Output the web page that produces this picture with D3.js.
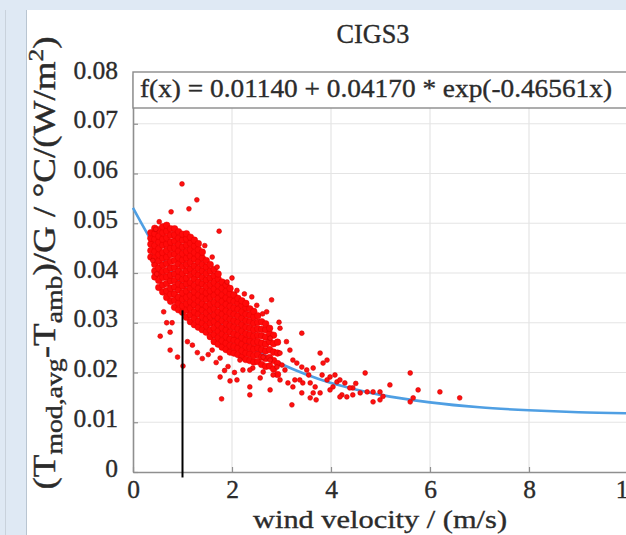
<!DOCTYPE html>
<html><head><meta charset="utf-8">
<script src="https://cdn.jsdelivr.net/npm/d3@7"></script>
<style>body{margin:0;background:#fff;overflow:hidden} svg{display:block}</style>
</head><body>
<svg id="chart" width="626" height="535"></svg>
<script>
// ---------- data ----------
const title = "CIGS3";
const fitLabel = "f(x) = 0.01140 + 0.04170 * exp(-0.46561x)";
const xLabel = "wind velocity / (m/s)";
const xTicks = [0, 2, 4, 6, 8, 10];
const xTickLabels = ["0", "2", "4", "6", "8", "10"];
const yTicks = [0, 0.01, 0.02, 0.03, 0.04, 0.05, 0.06, 0.07, 0.08];
const yTickLabels = ["0", "0.01", "0.02", "0.03", "0.04", "0.05", "0.06", "0.07", "0.08"];

// fitted curve
const fitWind  = [0, 0.5, 1, 1.5, 2, 2.5, 3, 3.5, 4, 4.5, 5, 6, 7, 8, 9, 10];
const fitCoeff = [0.0531, 0.0444, 0.0376, 0.0321, 0.0278, 0.0244, 0.0217, 0.0196, 0.0179, 0.0166, 0.0155, 0.0140, 0.0130, 0.0124, 0.0120, 0.0118];

// dense cloud: wind velocity columns and the coefficients read in each column
const denseWind = [0.36,0.44,0.52,0.60,0.68,0.76,0.84,0.92,1.00,1.08,1.16,1.24,1.32,1.40,1.48,1.56,1.64,1.72,1.80,1.88,1.96,2.04,2.12,2.20,2.28,2.36,2.44,2.52,2.60,2.68,2.76,2.84,2.92];
const denseCoeff = [
 [0.0432,0.0445,0.0458,0.0470,0.0481],
 [0.0392,0.0404,0.0417,0.0431,0.0443,0.0455,0.0468,0.0479,0.0490],
 [0.0371,0.0385,0.0398,0.0410,0.0424,0.0437,0.0449,0.0462,0.0474,0.0487],
 [0.0362,0.0376,0.0391,0.0403,0.0416,0.0430,0.0441,0.0456,0.0468,0.0481,0.0493],
 [0.0351,0.0364,0.0379,0.0392,0.0405,0.0419,0.0432,0.0445,0.0458,0.0471,0.0484,0.0496],
 [0.0343,0.0357,0.0369,0.0384,0.0396,0.0410,0.0423,0.0437,0.0450,0.0462,0.0476,0.0489],
 [0.0331,0.0345,0.0358,0.0372,0.0385,0.0398,0.0411,0.0425,0.0438,0.0451,0.0464,0.0477,0.0489],
 [0.0326,0.0339,0.0351,0.0366,0.0378,0.0392,0.0404,0.0418,0.0431,0.0444,0.0457,0.0470,0.0483],
 [0.0321,0.0334,0.0347,0.0360,0.0374,0.0387,0.0399,0.0413,0.0426,0.0439,0.0452,0.0466,0.0478],
 [0.0311,0.0325,0.0338,0.0351,0.0364,0.0378,0.0390,0.0404,0.0417,0.0430,0.0443,0.0456,0.0469,0.0479],
 [0.0302,0.0316,0.0329,0.0342,0.0355,0.0369,0.0381,0.0395,0.0408,0.0421,0.0434,0.0447,0.0460,0.0472],
 [0.0296,0.0309,0.0322,0.0336,0.0349,0.0362,0.0375,0.0388,0.0401,0.0414,0.0428,0.0441,0.0454,0.0466],
 [0.0291,0.0303,0.0317,0.0330,0.0343,0.0356,0.0369,0.0382,0.0396,0.0409,0.0422,0.0435,0.0447,0.0459],
 [0.0286,0.0299,0.0312,0.0325,0.0338,0.0351,0.0364,0.0378,0.0391,0.0404,0.0417,0.0430,0.0442],
 [0.0281,0.0294,0.0307,0.0320,0.0333,0.0347,0.0360,0.0373,0.0386,0.0399,0.0412,0.0425],
 [0.0272,0.0285,0.0299,0.0312,0.0325,0.0338,0.0351,0.0364,0.0377,0.0390,0.0404,0.0417],
 [0.0262,0.0276,0.0289,0.0302,0.0315,0.0328,0.0341,0.0355,0.0368,0.0381,0.0394,0.0407],
 [0.0257,0.0270,0.0283,0.0296,0.0309,0.0322,0.0336,0.0349,0.0362,0.0375,0.0388,0.0398],
 [0.0251,0.0264,0.0277,0.0290,0.0304,0.0317,0.0330,0.0343,0.0356,0.0369,0.0382],
 [0.0246,0.0259,0.0272,0.0285,0.0298,0.0311,0.0324,0.0337,0.0350,0.0363,0.0376],
 [0.0241,0.0254,0.0267,0.0281,0.0294,0.0307,0.0320,0.0333,0.0346,0.0358,0.0369],
 [0.0239,0.0252,0.0265,0.0278,0.0291,0.0304,0.0317,0.0330,0.0343,0.0356],
 [0.0236,0.0249,0.0262,0.0275,0.0288,0.0301,0.0314,0.0327,0.0340,0.0349],
 [0.0231,0.0244,0.0257,0.0270,0.0283,0.0296,0.0309,0.0322,0.0335,0.0344],
 [0.0226,0.0239,0.0252,0.0265,0.0278,0.0291,0.0304,0.0317,0.0330,0.0339],
 [0.0224,0.0237,0.0250,0.0263,0.0276,0.0289,0.0302,0.0315,0.0328],
 [0.0221,0.0234,0.0247,0.0260,0.0273,0.0286,0.0299,0.0312,0.0323],
 [0.0222,0.0236,0.0249,0.0262,0.0275,0.0288,0.0301,0.0314],
 [0.0216,0.0231,0.0246,0.0259,0.0274,0.0287,0.0302],
 [0.0212,0.0228,0.0243,0.0257,0.0271,0.0286,0.0298],
 [0.0213,0.0230,0.0246,0.0262,0.0278,0.0289],
 [0.0207,0.0224,0.0241,0.0258,0.0275],
 [0.0196,0.0218,0.0239,0.0261]
];

// scattered points outside the dense cloud
const sparseWind = [0.99,1.29,1.13,0.77,0.53,1.74,0.46,1.45,1.60,2.00,2.40,2.80,2.62,2.95,3.41,2.97,2.77,3.10,3.17,2.97,3.23,3.31,3.41,3.51,3.64,3.78,3.92,3.84,3.82,3.98,4.12,4.28,4.44,3.68,3.43,3.27,3.13,2.97,2.83,2.63,2.42,2.22,2.57,2.36,2.77,3.23,3.21,3.58,3.41,3.78,3.98,4.32,3.01,2.77,2.63,2.91,3.07,4.69,5.60,5.19,5.76,6.20,6.60,4.85,4.99,4.85,4.99,5.60,5.66,4.38,4.44,4.59,4.73,4.18,4.08,4.22,3.37,3.58,3.92,3.64,4.04,4.18,3.70,3.55,4.50,5.05,
  0.48,0.40,0.79,0.75,0.55,0.75,0.90,1.01,0.62,0.68,1.10,1.20,1.30,1.40,1.52,1.76,1.96,2.36,2.16,1.76,1.60,1.79,2.36,2.10,1.92,2.05,1.85,1.68,2.10,2.25,1.90,1.70,2.50,2.70];
const sparseCoeff = [0.0579,0.0547,0.0529,0.0523,0.0503,0.0484,0.0488,0.0455,0.0432,0.0390,0.0352,0.0346,0.0318,0.0301,0.0279,0.0289,0.0269,0.0262,0.0245,0.0239,0.0225,0.0219,0.0211,0.0205,0.0209,0.0239,0.0225,0.0219,0.0195,0.0191,0.0181,0.0179,0.0169,0.0171,0.0179,0.0185,0.0179,0.0185,0.0195,0.0201,0.0209,0.0205,0.0189,0.0155,0.0165,0.0171,0.0135,0.0149,0.0159,0.0159,0.0165,0.0151,0.0215,0.0225,0.0231,0.0211,0.0205,0.0199,0.0199,0.0175,0.0165,0.0161,0.0149,0.0161,0.0161,0.0141,0.0145,0.0141,0.0149,0.0169,0.0155,0.0159,0.0161,0.0185,0.0195,0.0155,0.0185,0.0179,0.0185,0.0159,0.0171,0.0151,0.0145,0.0195,0.0178,0.0152,
  0.0398,0.0425,0.0300,0.0281,0.0273,0.0245,0.0231,0.0213,0.0322,0.0300,0.0262,0.0255,0.0240,0.0228,0.0236,0.0191,0.0183,0.0205,0.0225,0.0229,0.0245,0.0147,0.0171,0.0185,0.0212,0.0200,0.0204,0.0220,0.0365,0.0358,0.0382,0.0412,0.0335,0.0322];

// black marker line
const markerWind = [1.0];
const markerCoeffRange = [0.0325, -0.0011];

// ---------- drawing ----------
const svg = d3.select("#chart");
const x = d3.scaleLinear().domain([0, 10]).range([133, 628]);
const y = d3.scaleLinear().domain([0, 0.08]).range([472, 74]);
const serif = "Liberation Serif, Times New Roman, serif";
const ink = "#2b2b2b";

// page frame (screenshot border)
svg.append("rect").attr("x",0).attr("y",0).attr("width",626).attr("height",535).attr("fill","#ffffff");
svg.append("rect").attr("x",0).attr("y",0).attr("width",626).attr("height",10).attr("fill","#dfe9f4");
svg.append("rect").attr("x",0).attr("y",0).attr("width",26).attr("height",535).attr("fill","#dfe9f4");
svg.append("line").attr("x1",5.5).attr("x2",5.5).attr("y1",10).attr("y2",535).attr("stroke","#c9d2dc").attr("stroke-width",1);
svg.append("line").attr("x1",26.5).attr("x2",26.5).attr("y1",10).attr("y2",535).attr("stroke","#b9c5d1").attr("stroke-width",1);

// grid
const grid = svg.append("g");
grid.selectAll("line.gx").data(xTicks.filter(d => d > 0)).join("line")
  .attr("x1", d => x(d)).attr("x2", d => x(d)).attr("y1", y(0)).attr("y2", y(0.08))
  .attr("stroke", "#e4e4e4").attr("stroke-width", 1.2);
grid.selectAll("line.gy").data(yTicks.filter(d => d > 0)).join("line")
  .attr("x1", x(0)).attr("x2", 626).attr("y1", d => y(d)).attr("y2", d => y(d))
  .attr("stroke", "#e4e4e4").attr("stroke-width", 1.2);

// axes
const yAxis = d3.axisLeft(y).tickValues(yTicks).tickFormat((d, i) => yTickLabels[i])
  .tickSizeInner(-5).tickSizeOuter(0).tickPadding(15);
const gy = svg.append("g").attr("transform", `translate(${x(0)},0)`).call(yAxis);
const xAxis = d3.axisBottom(x).tickValues(xTicks).tickFormat((d, i) => xTickLabels[i])
  .tickSizeInner(-5).tickSizeOuter(0).tickPadding(8);
const gx = svg.append("g").attr("transform", `translate(0,${y(0)})`).call(xAxis);
[gx, gy].forEach(g => {
  g.attr("font-family", serif);
  g.select(".domain").attr("stroke", "#8f8f8f").attr("stroke-width", 1.6);
  g.selectAll(".tick line").attr("stroke", "#8f8f8f").attr("stroke-width", 1.2);
  g.selectAll(".tick text").attr("font-family", serif).attr("font-size", 25.5)
    .attr("fill", ink).attr("stroke", ink).attr("stroke-width", 0.35);
});
gy.selectAll(".tick text").attr("dy", "0.16em");

// fit curve
const line = d3.line().x(d => x(d[0])).y(d => y(d[1])).curve(d3.curveMonotoneX);
svg.append("path").datum(fitWind.map((w, i) => [w, fitCoeff[i]]))
  .attr("d", line).attr("fill", "none").attr("stroke", "#4f9fe3").attr("stroke-width", 2.6);

// points
const densePts = denseWind.flatMap((w, i) => denseCoeff[i].map(c => [w, c]));
const sparsePts = sparseWind.map((w, i) => [w, sparseCoeff[i]]);
svg.append("g").selectAll("circle").data(densePts).join("circle")
  .attr("cx", d => x(d[0])).attr("cy", d => y(d[1])).attr("r", 3.3)
  .attr("fill", "#ff0a0a").attr("stroke", "#e60000").attr("stroke-width", 0.5);
svg.append("g").selectAll("circle").data(sparsePts).join("circle")
  .attr("cx", d => x(d[0])).attr("cy", d => y(d[1])).attr("r", 2.4)
  .attr("fill", "#ff1010").attr("stroke", "#d00000").attr("stroke-width", 0.6);

// marker line
svg.append("line").attr("x1", x(markerWind[0])).attr("x2", x(markerWind[0]))
  .attr("y1", y(markerCoeffRange[0])).attr("y2", y(markerCoeffRange[1]))
  .attr("stroke", "#000").attr("stroke-width", 2);

// equation box
svg.append("rect").attr("x", x(0)).attr("y", 72).attr("width", 520).attr("height", 36)
  .attr("fill", "#fff").attr("stroke", "#8a8a8a").attr("stroke-width", 1.4);
svg.append("text").attr("x", 140).attr("y", 97).attr("font-family", serif).attr("font-size", 26)
  .attr("fill", ink).attr("stroke", ink).attr("stroke-width", 0.35)
  .attr("textLength", 472).attr("lengthAdjust", "spacingAndGlyphs").text(fitLabel);

// title
svg.append("text").attr("x", 373).attr("y", 43).attr("text-anchor", "middle").attr("font-family", serif)
  .attr("font-size", 27).attr("fill", ink).attr("stroke", ink).attr("stroke-width", 0.35)
  .attr("textLength", 73).attr("lengthAdjust", "spacingAndGlyphs").text(title);

// x label
svg.append("text").attr("x", 380).attr("y", 528).attr("text-anchor", "middle").attr("font-family", serif)
  .attr("font-size", 26).attr("fill", ink).attr("stroke", ink).attr("stroke-width", 0.35)
  .attr("textLength", 254).attr("lengthAdjust", "spacingAndGlyphs").text(xLabel);

// y label
const yl = svg.append("text").attr("transform", "translate(55,263) rotate(-90)")
  .attr("text-anchor", "middle").attr("font-family", serif).attr("font-size", 32)
  .attr("fill", ink).attr("stroke", ink).attr("stroke-width", 0.4)
  .attr("textLength", 453).attr("lengthAdjust", "spacingAndGlyphs");
yl.append("tspan").text("(T");
yl.append("tspan").attr("dy", 7).attr("font-size", 24).text("mod,avg");
yl.append("tspan").attr("dy", -7).text("-T");
yl.append("tspan").attr("dy", 7).attr("font-size", 24).text("amb");
yl.append("tspan").attr("dy", -7).text(")/G / \u00B0C/(W/m");
yl.append("tspan").attr("dy", -12).attr("font-size", 22).text("2");
yl.append("tspan").attr("dy", 12).text(")");
</script>
</body></html>
